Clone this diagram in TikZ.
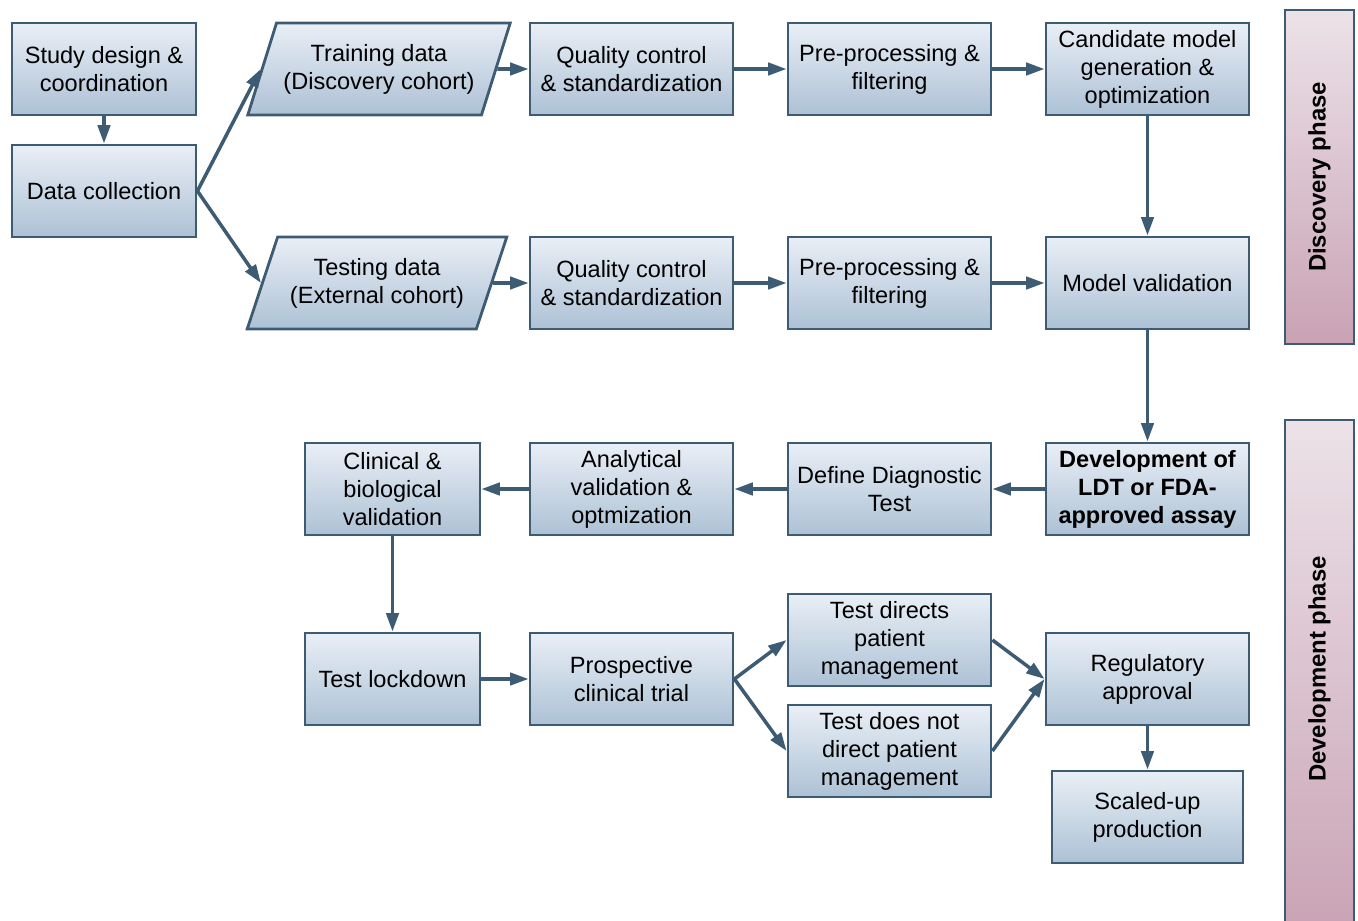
\documentclass[tikz,border=0pt]{standalone}
\usepackage{fontspec}
\setmainfont{Liberation Sans}
\usepackage{tikz}
\usetikzlibrary{arrows.meta,shapes.geometric}
\definecolor{flowEdge}{HTML}{3E5B74}
\definecolor{flowTop}{HTML}{E9EFF6}
\definecolor{flowBottom}{HTML}{ADC1D5}
\definecolor{phaseTop}{HTML}{ECE2E8}
\definecolor{phaseBottom}{HTML}{C9A2B4}

\begin{document}
\begin{tikzpicture}[
    font=\fontsize{13.4}{15.9}\selectfont,
    box/.style={draw=flowEdge, line width=1.6pt, align=center, minimum width=4.06cm, minimum height=1.84cm, inner sep=2pt, top color=flowTop, bottom color=flowBottom},
    databox/.style={box, trapezium, trapezium left angle=64, trapezium right angle=116, trapezium stretches=true, minimum width=5.25cm},
    phase/.style={draw=flowEdge, line width=1.6pt, top color=phaseTop, bottom color=phaseBottom},
    arrow/.style={-{Triangle[length=10.5pt,width=7pt]}, line width=2pt, draw=flowEdge}
]
\useasboundingbox (0,0) rectangle (27.16,-18.42);

% phase bars
\begin{scope}
\clip (0,0) rectangle (27.16,-18.42);
\draw[phase] (25.7,-0.2) rectangle (27.08,-6.88);
\draw[phase] (25.7,-8.4) rectangle (27.08,-18.8);
\end{scope}
\node[rotate=90, font=\fontsize{13.6}{15}\selectfont\bfseries] (discphase) at (26.39,-3.54) {Discovery phase};
\node[rotate=90, font=\fontsize{13.6}{15}\selectfont\bfseries] (devphase) at (26.39,-13.38) {Development phase};

% discovery
\node[box, minimum width=3.68cm] (study) at (2.08,-1.38) {Study design \&\\coordination};
\node[box, minimum width=3.68cm] (collect) at (2.08,-3.82) {Data collection};
\node[databox] (train) at (7.58,-1.38) {Training data\\(Discovery cohort)};
\node[box] (qc1) at (12.63,-1.38) {Quality control\\\& standardization};
\node[box] (prep1) at (17.79,-1.38) {Pre-processing \&\\filtering};
\node[box] (cand) at (22.95,-1.38) {Candidate model\\generation \&\\optimization};

\node[databox, minimum width=5.2cm] (test) at (7.54,-5.66) {Testing data\\(External cohort)};
\node[box] (qc2) at (12.63,-5.66) {Quality control\\\& standardization};
\node[box] (prep2) at (17.79,-5.66) {Pre-processing \&\\filtering};
\node[box] (valid) at (22.95,-5.66) {Model validation};

% development
\node[box, font=\fontsize{13.4}{15.9}\selectfont\bfseries] (assay) at (22.95,-9.78) {Development of\\LDT or FDA-\\approved assay};
\node[box] (define) at (17.79,-9.78) {Define Diagnostic\\Test};
\node[box] (analyt) at (12.63,-9.78) {Analytical\\validation \&\\optmization};
\node[box, minimum width=3.5cm] (clinic) at (7.85,-9.78) {Clinical \&\\biological\\validation};

\node[box, minimum width=3.5cm] (lock) at (7.85,-13.58) {Test lockdown};
\node[box] (trial) at (12.63,-13.58) {Prospective\\clinical trial};
\node[box] (directs) at (17.79,-12.8) {Test directs\\patient\\management};
\node[box] (nodirect) at (17.79,-15.02) {Test does not\\direct patient\\management};
\node[box] (approval) at (22.95,-13.58) {Regulatory\\approval};
\node[box, minimum width=3.82cm] (scaled) at (22.95,-16.34) {Scaled-up\\production};

\draw[arrow] (study) -- (collect);
\draw[arrow] (collect.east) -- (train.west);
\draw[arrow] (collect.east) -- (test.west);
\draw[arrow] (train.east) -- (qc1);
\draw[arrow] (qc1) -- (prep1);
\draw[arrow] (prep1) -- (cand);
\draw[arrow] (cand) -- (valid);
\draw[arrow] (test.east) -- (qc2);
\draw[arrow] (qc2) -- (prep2);
\draw[arrow] (prep2) -- (valid);
\draw[arrow] (valid) -- (assay);
\draw[arrow] (assay) -- (define);
\draw[arrow] (define) -- (analyt);
\draw[arrow] (analyt) -- (clinic);
\draw[arrow] (clinic) -- (lock);
\draw[arrow] (lock) -- (trial);
\draw[arrow] (trial.east) -- (directs.west);
\draw[arrow] (trial.east) -- (nodirect.west);
\draw[arrow] (directs.east) -- (approval.west);
\draw[arrow] (nodirect.east) -- (approval.west);
\draw[arrow] (approval) -- (scaled);

\end{tikzpicture}
\end{document}
